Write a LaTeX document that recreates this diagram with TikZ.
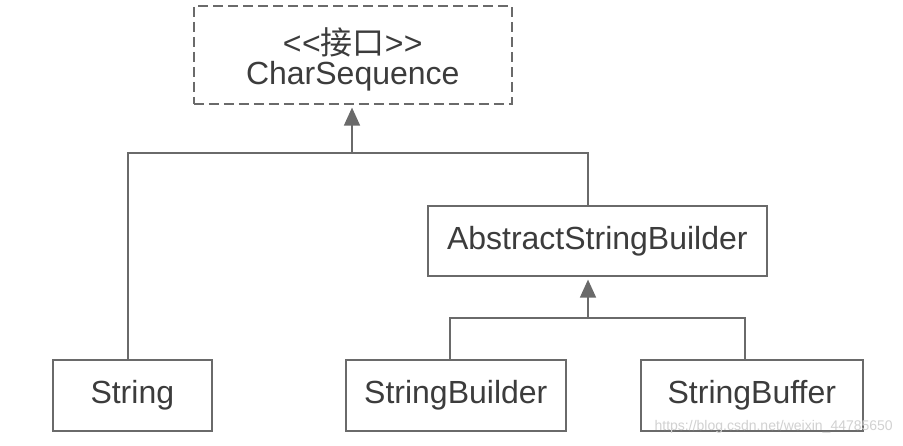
\documentclass[tikz,border=0pt]{standalone}
\usepackage{fontspec}
\setmainfont{Liberation Sans}[Ligatures=NoCommon]
\newfontfamily\cjk{Noto Sans CJK SC}
\usetikzlibrary{arrows.meta}
\definecolor{linegray}{HTML}{6A6A6A}
\definecolor{textgray}{HTML}{3C3C3C}
\begin{document}
\begin{tikzpicture}[x=1pt,y=-1pt,
  cls/.style={draw=linegray,line width=1.6pt,fill=white,text=textgray,font=\fontsize{32}{36}\selectfont,inner sep=0pt,anchor=north west},
  conn/.style={draw=linegray,line width=1.6pt},
  inh/.style={conn,-{Triangle[width=16pt,length=18pt]},shorten >=3pt}]
\useasboundingbox (0,0) rectangle (903,445);
\node[cls,dashed,dash pattern=on 10pt off 5pt,minimum width=318pt,minimum height=98pt,align=center] (cs) at (193,5)
  {\raisebox{-6pt}[\height][\depth]{{<}\kern0.5pt{<}{\cjk 接口}{>}\kern0.5pt{>}}\\[-4pt]\raisebox{-4pt}[\height][\depth]{CharSequence}};
\node[cls,minimum width=339pt,minimum height=70pt] (asb) at (427,205) {AbstractStringBuilder};
\node[cls,minimum width=159pt,minimum height=71pt] (str) at (52,359) {String};
\node[cls,minimum width=220pt,minimum height=71pt] (sbd) at (345,359) {StringBuilder};
\node[cls,minimum width=222pt,minimum height=71pt] (sbf) at (640,359) {StringBuffer};
\coordinate (j1) at (352,153);
\coordinate (j2) at (588,318);
\draw[conn] (str.north -| 128,0) |- (j1) -| (asb.north -| 588,0);
\draw[inh] (j1) -- (cs.south -| j1);
\draw[conn] (sbd.north -| 450,0) |- (j2) -| (sbf.north -| 745,0);
\draw[inh] (j2) -- (asb.south -| j2);
\node[text=black!18,font=\fontsize{14}{16}\selectfont,anchor=east,inner sep=0pt] (wm) at (893,427) {https://blog.csdn.net/weixin\_44785650};
\end{tikzpicture}
\end{document}
